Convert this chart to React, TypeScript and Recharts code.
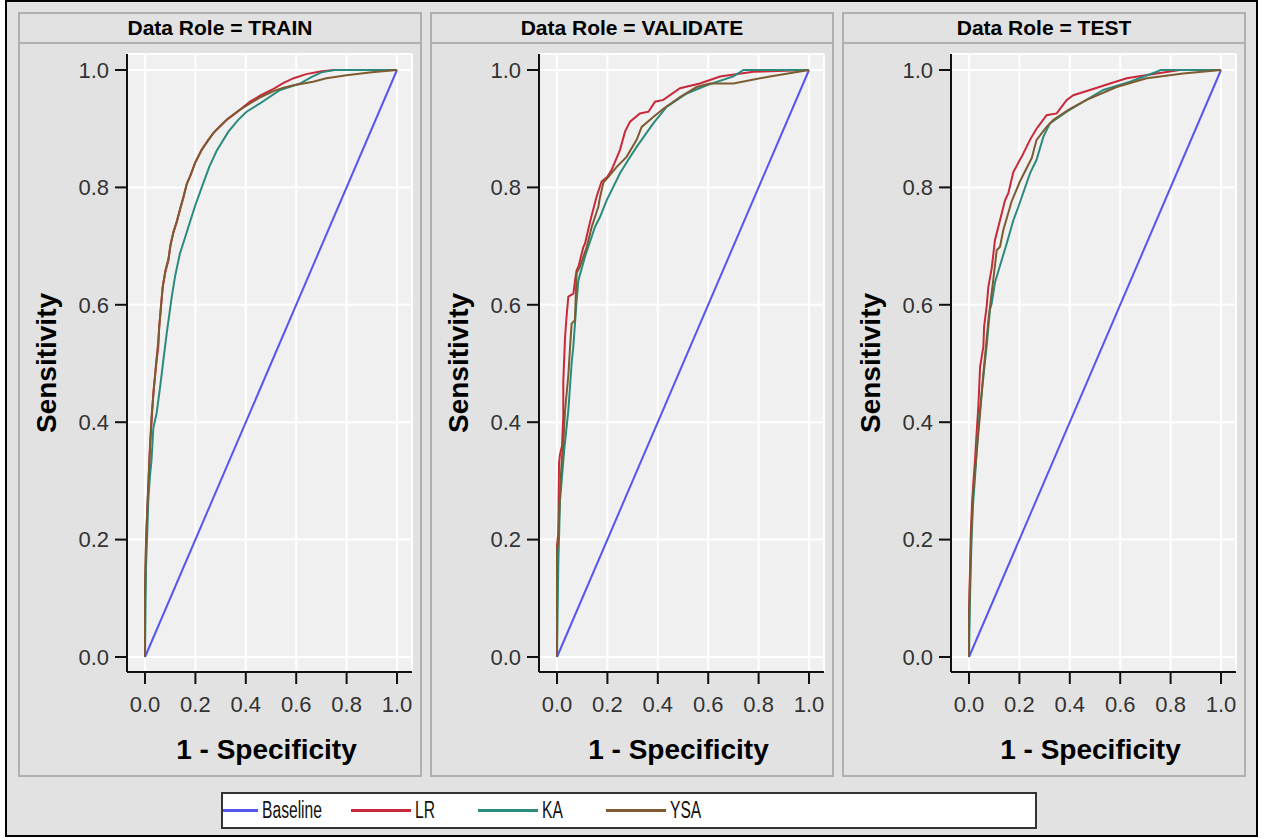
import { LineChart, Line, XAxis, YAxis, CartesianGrid, Legend } from "recharts";

// ROC points: [1 - specificity, sensitivity]
const baseline = [
  [0, 0],
  [1, 1],
];

const trainLR = [
  [0, 0], [0, 0.1], [0.004, 0.19], [0.008, 0.24], [0.013, 0.29], [0.02, 0.36], [0.026, 0.4],
  [0.033, 0.45], [0.045, 0.5], [0.053, 0.53], [0.056, 0.56], [0.064, 0.6], [0.07, 0.63],
  [0.08, 0.655], [0.093, 0.676], [0.1, 0.7], [0.112, 0.722], [0.125, 0.74], [0.139, 0.762],
  [0.15, 0.78], [0.165, 0.805], [0.18, 0.82], [0.198, 0.841], [0.225, 0.864], [0.25, 0.88],
  [0.27, 0.892], [0.3, 0.905], [0.324, 0.915], [0.37, 0.93], [0.417, 0.946], [0.46, 0.957],
  [0.51, 0.968], [0.55, 0.978], [0.59, 0.986], [0.64, 0.993], [0.7, 0.998], [0.75, 1], [1, 1],
];
const trainKA = [
  [0, 0], [0.002, 0.08], [0.004, 0.154], [0.009, 0.21], [0.013, 0.267], [0.02, 0.31],
  [0.026, 0.336], [0.033, 0.39], [0.046, 0.415], [0.06, 0.46], [0.073, 0.506], [0.086, 0.551],
  [0.106, 0.613], [0.12, 0.65], [0.139, 0.688], [0.16, 0.716], [0.179, 0.742], [0.2, 0.77],
  [0.231, 0.807], [0.255, 0.835], [0.284, 0.862], [0.331, 0.895], [0.37, 0.915], [0.403, 0.929],
  [0.456, 0.943], [0.536, 0.966], [0.615, 0.977], [0.66, 0.988], [0.7, 0.996], [0.75, 1], [1, 1],
];
const trainYSA = [
  [0, 0], [0, 0.12], [0.004, 0.2], [0.009, 0.25], [0.012, 0.28], [0.019, 0.35], [0.026, 0.41],
  [0.034, 0.45], [0.044, 0.5], [0.052, 0.535], [0.057, 0.565], [0.065, 0.605], [0.071, 0.632],
  [0.082, 0.66], [0.094, 0.68], [0.102, 0.703], [0.113, 0.725], [0.127, 0.743], [0.14, 0.765],
  [0.152, 0.782], [0.166, 0.806], [0.182, 0.822], [0.2, 0.843], [0.226, 0.865], [0.252, 0.881],
  [0.272, 0.893], [0.302, 0.906], [0.326, 0.916], [0.372, 0.931], [0.42, 0.944], [0.46, 0.954],
  [0.51, 0.964], [0.55, 0.97], [0.59, 0.974], [0.667, 0.98], [0.72, 0.986], [0.8, 0.991],
  [0.9, 0.996], [1, 1],
];

const validateLR = [
  [0, 0], [0, 0.19], [0.005, 0.21], [0.008, 0.33], [0.012, 0.345], [0.02, 0.36], [0.025, 0.41],
  [0.025, 0.47], [0.032, 0.545], [0.038, 0.58], [0.045, 0.614], [0.065, 0.619], [0.071, 0.64],
  [0.078, 0.659], [0.085, 0.665], [0.105, 0.699], [0.111, 0.704], [0.125, 0.73], [0.138, 0.753],
  [0.157, 0.784], [0.177, 0.81], [0.2, 0.818], [0.217, 0.83], [0.25, 0.864], [0.27, 0.895],
  [0.29, 0.912], [0.329, 0.926], [0.363, 0.929], [0.389, 0.946], [0.422, 0.949], [0.488, 0.969],
  [0.567, 0.977], [0.647, 0.989], [0.779, 0.997], [1, 1],
];
const validateKA = [
  [0, 0], [0.005, 0.154], [0.012, 0.267], [0.028, 0.35], [0.045, 0.42], [0.058, 0.5],
  [0.065, 0.53], [0.078, 0.608], [0.085, 0.642], [0.111, 0.682], [0.151, 0.733], [0.171, 0.75],
  [0.197, 0.778], [0.25, 0.824], [0.283, 0.847], [0.316, 0.869], [0.382, 0.909], [0.435, 0.937],
  [0.515, 0.96], [0.594, 0.974], [0.7, 0.989], [0.74, 1], [0.832, 1], [1, 1],
];
const validateYSA = [
  [0, 0], [0, 0.18], [0.005, 0.2], [0.01, 0.26], [0.018, 0.33], [0.025, 0.364], [0.032, 0.42],
  [0.045, 0.48], [0.052, 0.529], [0.058, 0.568], [0.071, 0.574], [0.075, 0.62], [0.078, 0.654],
  [0.091, 0.665], [0.111, 0.69], [0.118, 0.699], [0.138, 0.733], [0.164, 0.767], [0.171, 0.784],
  [0.184, 0.808], [0.204, 0.818], [0.237, 0.835], [0.276, 0.852], [0.316, 0.881], [0.336, 0.903],
  [0.382, 0.92], [0.422, 0.934], [0.488, 0.954], [0.554, 0.971], [0.607, 0.977], [0.7, 0.977],
  [0.845, 0.989], [1, 1],
];

const testLR = [
  [0, 0], [0, 0.08], [0.004, 0.15], [0.007, 0.21], [0.012, 0.26], [0.018, 0.3], [0.024, 0.336],
  [0.03, 0.38], [0.037, 0.426], [0.044, 0.494], [0.057, 0.529], [0.06, 0.563], [0.07, 0.597],
  [0.077, 0.631], [0.09, 0.662], [0.103, 0.71], [0.13, 0.756], [0.143, 0.778], [0.156, 0.79],
  [0.176, 0.826], [0.202, 0.847], [0.209, 0.852], [0.242, 0.881], [0.268, 0.9], [0.308, 0.923],
  [0.348, 0.926], [0.388, 0.949], [0.414, 0.957], [0.48, 0.966], [0.56, 0.977], [0.626, 0.986],
  [0.745, 0.994], [0.837, 1], [1, 1],
];
const testKA = [
  [0, 0], [0.004, 0.1], [0.01, 0.2], [0.016, 0.26], [0.024, 0.307], [0.037, 0.392], [0.05, 0.449],
  [0.07, 0.529], [0.083, 0.591], [0.09, 0.602], [0.103, 0.638], [0.15, 0.705], [0.176, 0.744],
  [0.196, 0.767], [0.242, 0.824], [0.268, 0.847], [0.295, 0.886], [0.321, 0.909], [0.388, 0.929],
  [0.454, 0.946], [0.533, 0.966], [0.639, 0.98], [0.745, 0.997], [0.76, 1], [1, 1],
];
const testYSA = [
  [0, 0], [0, 0.06], [0.005, 0.15], [0.01, 0.22], [0.016, 0.28], [0.03, 0.347], [0.044, 0.415],
  [0.057, 0.483], [0.077, 0.574], [0.097, 0.645], [0.11, 0.693], [0.123, 0.699], [0.136, 0.727],
  [0.169, 0.776], [0.202, 0.81], [0.249, 0.85], [0.268, 0.881], [0.308, 0.903], [0.335, 0.915],
  [0.401, 0.934], [0.467, 0.949], [0.586, 0.971], [0.705, 0.986], [0.85, 0.994], [1, 1],
];

const roles = ["TRAIN", "VALIDATE", "TEST"];
const seriesNames = ["Baseline", "LR", "KA", "YSA"];
const seriesColors = ["#5555f0", "#c8283a", "#2a8a7c", "#7d5a30"];
const roleData = [
  [baseline, trainLR, trainKA, trainYSA],
  [baseline, validateLR, validateKA, validateYSA],
  [baseline, testLR, testKA, testYSA],
];
const axisTicks = [0, 0.2, 0.4, 0.6, 0.8, 1];

const FONT = '"Liberation Sans", Arial, sans-serif';
const BG = "#e2e2e2";
const PANEL_BORDER = "#b0b0b0";

const toPoints = (arr: number[][]) => arr.map(([fpr, tpr]) => ({ fpr, tpr }));

function LegendBox({ payload }: any) {
  const items = [...(payload || [])].sort(
    (a: any, b: any) => seriesNames.indexOf(a.value) - seriesNames.indexOf(b.value)
  );
  return (
    <div
      style={{
        width: 816,
        height: 37,
        boxSizing: "border-box",
        border: "2px solid #333",
        background: "#fff",
        display: "flex",
        alignItems: "center",
      }}
    >
      {items.map((entry: any) => (
        <div key={entry.value} style={{ width: 127.5, display: "flex", alignItems: "center" }}>
          <span style={{ width: 60, height: 3, background: entry.color, display: "inline-block" }} />
          {/* the legend uses a condensed face */}
          <span
            style={{
              marginLeft: 4,
              fontFamily: FONT,
              fontSize: 23,
              color: "#111",
              display: "inline-block",
              transform: "scaleX(0.68)",
              transformOrigin: "left center",
              whiteSpace: "nowrap",
            }}
          >
            {entry.value}
          </span>
        </div>
      ))}
    </div>
  );
}

function RocPanel({ index }: { index: number }) {
  const left = 18 + index * 412;
  const series = roleData[index];
  return (
    <>
      <div
        style={{
          position: "absolute",
          left,
          top: 12,
          width: 404,
          height: 765,
          boxSizing: "border-box",
          border: `2px solid ${PANEL_BORDER}`,
          background: BG,
        }}
      >
        <div
          style={{
            height: 30,
            boxSizing: "border-box",
            borderBottom: `2px solid ${PANEL_BORDER}`,
            textAlign: "center",
            fontFamily: FONT,
            fontWeight: "bold",
            fontSize: 21,
            lineHeight: "28px",
            color: "#000",
          }}
        >
          Data Role = {roles[index]}
        </div>
      </div>
      <div style={{ position: "absolute", left, top: 42 }}>
        <LineChart width={404} height={735} margin={{ top: 12, right: 10, bottom: 45, left: 39 }}>
          <CartesianGrid fill="#f0f0f0" stroke="#ffffff" strokeWidth={2} />
          <XAxis
            type="number"
            dataKey="fpr"
            domain={[0, 1]}
            ticks={axisTicks}
            padding={{ left: 18, right: 15 }}
            height={60}
            tickSize={12}
            tickMargin={12}
            tickFormatter={(v: number) => v.toFixed(1)}
            tick={{ fill: "#333", fontSize: 22, fontFamily: FONT }}
            axisLine={{ stroke: "#111", strokeWidth: 2 }}
            tickLine={{ stroke: "#111", strokeWidth: 2 }}
            label={(props: any) => {
              const vb = props.viewBox || { x: 109, width: 285 };
              return (
                <text
                  x={vb.x + vb.width / 2 - 3}
                  y={717}
                  textAnchor="middle"
                  fontFamily={FONT}
                  fontWeight="bold"
                  fontSize={28}
                  fill="#000"
                >
                  1 - Specificity
                </text>
              );
            }}
          />
          <XAxis xAxisId="top" orientation="top" type="number" domain={[0, 1]} height={0} tick={false} tickLine={false} axisLine={{ stroke: "#111", strokeWidth: 2 }} />
          <YAxis
            type="number"
            domain={[0, 1]}
            ticks={axisTicks}
            padding={{ top: 16, bottom: 15 }}
            width={70}
            tickSize={12}
            tickMargin={6}
            tickFormatter={(v: number) => v.toFixed(1)}
            tick={{ fill: "#333", fontSize: 22, fontFamily: FONT }}
            axisLine={{ stroke: "#111", strokeWidth: 2 }}
            tickLine={{ stroke: "#111", strokeWidth: 2 }}
            label={(props: any) => {
              const vb = props.viewBox || { y: 12, height: 618 };
              const cy = vb.y + vb.height / 2;
              return (
                <text
                  x={38}
                  y={cy}
                  transform={`rotate(-90, 38, ${cy})`}
                  textAnchor="middle"
                  fontFamily={FONT}
                  fontWeight="bold"
                  fontSize={28}
                  fill="#000"
                >
                  Sensitivity
                </text>
              );
            }}
          />
          <YAxis yAxisId="right" orientation="right" type="number" domain={[0, 1]} width={0} tick={false} tickLine={false} axisLine={{ stroke: "#111", strokeWidth: 2 }} />
          {series.map((arr, i) => (
            <Line
              key={seriesNames[i]}
              name={seriesNames[i]}
              data={toPoints(arr)}
              dataKey="tpr"
              type="linear"
              stroke={seriesColors[i]}
              strokeWidth={2}
              dot={false}
              activeDot={false}
              isAnimationActive={false}
            />
          ))}
          {index === 1 && (
            <Legend
              layout="horizontal"
              verticalAlign="middle"
              align="center"
              width={816}
              height={37}
              wrapperStyle={{ left: 221 - 430, top: 792 - 42, width: 816, height: 37 }}
              content={(props: any) => <LegendBox {...props} />}
            />
          )}
        </LineChart>
      </div>
    </>
  );
}

export default function App() {
  return (
    <div style={{ position: "absolute", left: 0, top: 0, width: 1270, height: 838, background: "#fff" }}>
      <div
        style={{
          position: "absolute",
          left: 5,
          top: 0,
          width: 1253,
          height: 837,
          boxSizing: "border-box",
          border: "2px solid #000",
          background: BG,
        }}
      />
      {roles.map((r, i) => (
        <RocPanel key={r} index={i} />
      ))}
    </div>
  );
}
